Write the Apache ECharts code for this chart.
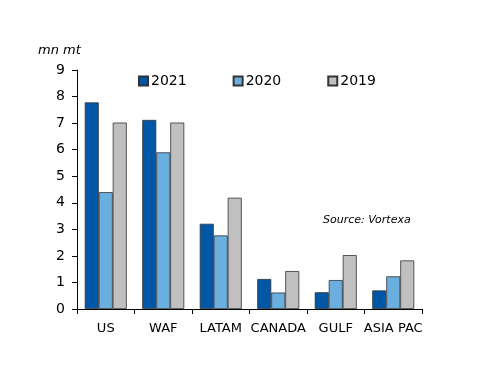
<!DOCTYPE html>
<html><head><meta charset="utf-8">
<script src="https://cdn.jsdelivr.net/npm/echarts@6/dist/echarts.min.js"></script>
<style>html,body{margin:0;padding:0;background:#fff}#c{width:500px;height:386px}</style>
</head><body><div id="c"></div>
<script>
const categories = ['US','WAF','LATAM','CANADA','GULF','ASIA PAC'];
const s2021 = [7.78, 7.12, 3.21, 1.13, 0.63, 0.70];
const s2020 = [4.40, 5.90, 2.77, 0.62, 1.09, 1.23];
const s2019 = [7.02, 7.02, 4.19, 1.43, 2.03, 1.83];
const yTicks = [0,1,2,3,4,5,6,7,8,9];
const font = 'DejaVu Sans';
const chart = echarts.init(document.getElementById('c'));
const bar = (name, data, color) => ({
  name, type: 'bar', data, barWidth: 14, barGap: '0%',
  itemStyle: { color, borderColor: '#333', borderWidth: 0.8 }
});
chart.setOption({
  animation: false,
  textStyle: { fontFamily: font },
  grid: { left: 77, right: 78, top: 70, bottom: 77 },
  legend: {
    top: 69, left: 133, itemWidth: 9, itemHeight: 9, itemGap: 46,
    icon: 'rect',
    textStyle: { fontFamily: font, fontSize: 14, color: '#000', padding: [0,0,0,-2] },
    data: ['2021','2020','2019']
  },
  xAxis: {
    type: 'category', data: categories,
    axisLine: { lineStyle: { color: '#000' } },
    axisTick: { show: true, length: 5, interval: 0, lineStyle: { color: '#000' } },
    axisLabel: { color: '#000', fontSize: 13, fontFamily: font, margin: 13, interval: 0 }
  },
  yAxis: {
    type: 'value', min: 0, max: 9, interval: 1,
    splitLine: { show: false },
    axisLine: { show: true, lineStyle: { color: '#000' } },
    axisTick: { show: true, length: 5, lineStyle: { color: '#000' } },
    axisLabel: { color: '#000', fontSize: 14, fontFamily: font, margin: 12,
      formatter: v => yTicks.includes(v) ? String(v) : '' }
  },
  graphic: [
    { type: 'text', left: 38, top: 44, style: { text: 'mn mt', font: 'italic 13px "DejaVu Sans"', fill: '#000' } },
    { type: 'text', left: 323, top: 215, style: { text: 'Source: Vortexa', font: 'italic 11px "DejaVu Sans"', fill: '#000' } }
  ],
  series: [
    bar('2021', s2021, '#0057A6'),
    bar('2020', s2020, '#6BAEE0'),
    bar('2019', s2019, '#C0C0C0')
  ]
});
</script></body></html>
